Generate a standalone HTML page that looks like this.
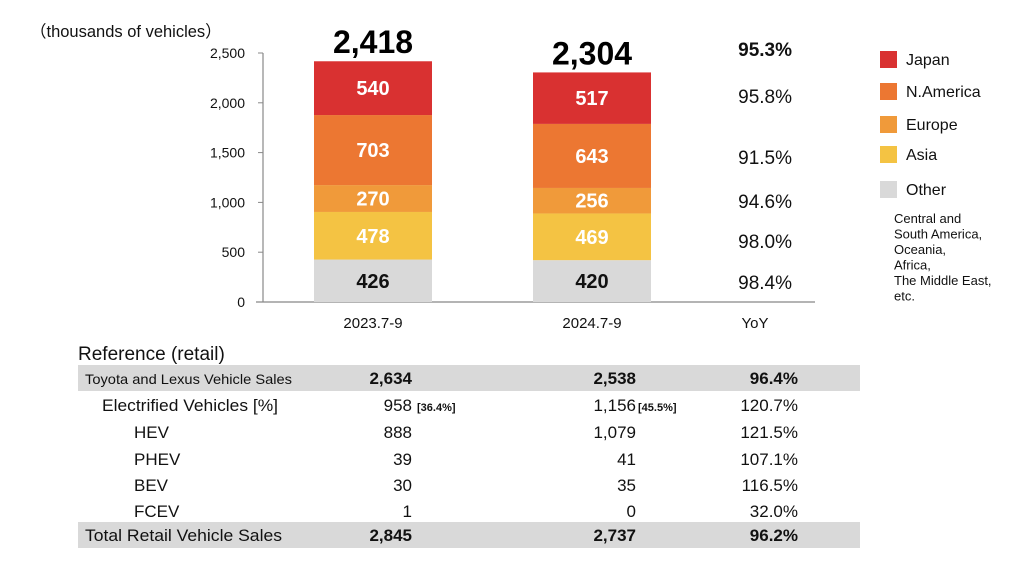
<!DOCTYPE html>
<html><head><meta charset="utf-8"><style>
body{margin:0;background:#fff;font-family:"Liberation Sans",Arial,sans-serif;}
svg text{font-family:"Liberation Sans",Arial,sans-serif;}
</style></head><body>
<svg id="c" width="1024" height="560" xmlns="http://www.w3.org/2000/svg">
<text x="30" y="37" font-size="16.5" fill="#111">（thousands of vehicles）</text>
<g id="axes"></g><g id="bars"></g><g id="yoy"></g><g id="legend"></g><g id="table"></g>
</svg>
<script>
const categories=["2023.7-9","2024.7-9"];
const seriesNames=["Other","Asia","Europe","N.America","Japan"];
const seriesColors=["#d9d9d9","#f4c343","#f09a3a","#ec7732","#d93131"];
const other=[426,420];
const asia=[478,469];
const europe=[270,256];
const namerica=[703,643];
const japan=[540,517];
const totals=[2418,2304];
const yoyTotal="95.3%";
const yoyBySeries=["98.4%","98.0%","94.6%","91.5%","95.8%"];
const yTicks=[0,500,1000,1500,2000,2500];
const tableRows=[
 ["Toyota and Lexus Vehicle Sales","2,634","","2,538","","96.4%"],
 ["Electrified Vehicles [%]","958","[36.4%]","1,156","[45.5%]","120.7%"],
 ["HEV","888","","1,079","","121.5%"],
 ["PHEV","39","","41","","107.1%"],
 ["BEV","30","","35","","116.5%"],
 ["FCEV","1","","0","","32.0%"],
 ["Total Retail Vehicle Sales","2,845","","2,737","","96.2%"]];

const NS="http://www.w3.org/2000/svg";
function mk(tag,attrs,parent,txt){const e=document.createElementNS(NS,tag);for(const k in attrs)e.setAttribute(k,attrs[k]);if(txt!==undefined)e.textContent=txt;parent.appendChild(e);return e;}
const y0=302,yTop=53,vmax=2500;
function y(v){return y0-(v/vmax)*(y0-yTop);}
const barX=[314,533],barW=118;
function xc(i){return barX[i]+barW/2;}

const ax=document.getElementById('axes');
let l=mk('line',{x1:263,y1:yTop,x2:263,y2:y0,stroke:'#888','stroke-width':1.2},ax);


l=mk('line',{x1:256,y1:y0,x2:815,y2:y0,stroke:'#888','stroke-width':1.2},ax);


yTicks.forEach(t=>{
 const tk=mk('line',{x1:258,y1:y(t),x2:263,y2:y(t),stroke:'#888'},ax);
 
 
 const tx=mk('text',{x:245,y:y(t)+5,'text-anchor':'end','font-size':14,fill:'#111'},ax,t.toLocaleString('en-US'));
 
 
});
categories.forEach((c,i)=>{
 const tx=mk('text',{x:xc(i),y:328,'text-anchor':'middle','font-size':15,fill:'#111'},ax,c);
 
 
});
const yl=mk('text',{x:755,y:328,'text-anchor':'middle','font-size':15,fill:'#111'},ax,'YoY');



const bg=document.getElementById('bars');
const series=[other,asia,europe,namerica,japan];
categories.forEach((c,i)=>{
 let acc=0;
 series.forEach((s,k)=>{
  const v=s[i];
  const r=mk('rect',{x:barX[i],y:y(acc+v),width:barW,height:y(acc)-y(acc+v),fill:seriesColors[k]},bg);
  
  
  const t=mk('text',{x:xc(i),y:(y(acc)+y(acc+v))/2+7,'text-anchor':'middle','font-size':20,'font-weight':'bold',fill:k===0?'#111':'#fff'},bg,v);
  
  
  acc+=v;
 });
 const t=mk('text',{x:xc(i),y:y(totals[i])-8,'text-anchor':'middle','font-size':32,'font-weight':'bold',fill:'#000'},bg,totals[i].toLocaleString('en-US'));
 
 
});

const yg=document.getElementById('yoy');
let t=mk('text',{x:792,y:56,'text-anchor':'end','font-size':19,'font-weight':'bold',fill:'#111'},yg,yoyTotal);


const yoyY=[282,241,201,157,96];
yoyBySeries.forEach((v,k)=>{
 const tt=mk('text',{x:792,y:yoyY[k]+7,'text-anchor':'end','font-size':19,fill:'#111'},yg,v);
 
 
});

const lg=document.getElementById('legend');
const legY=[181,146,116,83,51];
seriesNames.forEach((n,k)=>{
 const r=mk('rect',{x:880,y:legY[k],width:17,height:17,fill:seriesColors[k]},lg);
 
 
 const tt=mk('text',{x:906,y:legY[k]+14,'font-size':16,fill:'#111'},lg,n);
 
 
});
["Central and","South America,","Oceania,","Africa,","The Middle East,"," etc."].forEach((s,i)=>{
 const tt=mk('text',{x:894,y:223+i*15.5,'font-size':13,fill:'#111'},lg,s);
 
 
});

const tg=document.getElementById('table');
t=mk('text',{x:78,y:360,'font-size':19,fill:'#111'},tg,'Reference (retail)');


const rowY=[378,405,432,459,485,511,535];
const labelX=[85,102,134,134,134,134,85];
const labelLen=[207,176,0,0,0,0,197];
tableRows.forEach((row,r)=>{
 const first=r===0,last=r===6;
 if(first||last){
  const b=mk('rect',{x:78,y:rowY[r]-13,width:782,height:26,fill:'#d9d9d9'},tg);
  
  
 }
 const bold=first||last?'bold':'normal';
 const fs=first?14:17;
 const attrs={x:labelX[r],y:rowY[r]+6,'font-size':fs,fill:'#111'};
 if(labelLen[r]){attrs.textLength=labelLen[r];attrs.lengthAdjust='spacingAndGlyphs';}
 const c=mk('text',attrs,tg,row[0]);
 
 
 const vals=[[row[1],412],[row[3],636],[row[5],798]];
 vals.forEach(([v,x])=>{
  const e=mk('text',{x:x,y:rowY[r]+6,'text-anchor':'end','font-size':17,'font-weight':bold,fill:'#111'},tg,v);
  
  
 });
 if(row[2]){const e=mk('text',{x:417,y:rowY[r]+6,'font-size':11,'font-weight':'bold',fill:'#111'},tg,row[2]);
  
  }
 if(row[4]){const e=mk('text',{x:638,y:rowY[r]+6,'font-size':11,'font-weight':'bold',fill:'#111'},tg,row[4]);
  
  }
});
</script>
</body></html>
